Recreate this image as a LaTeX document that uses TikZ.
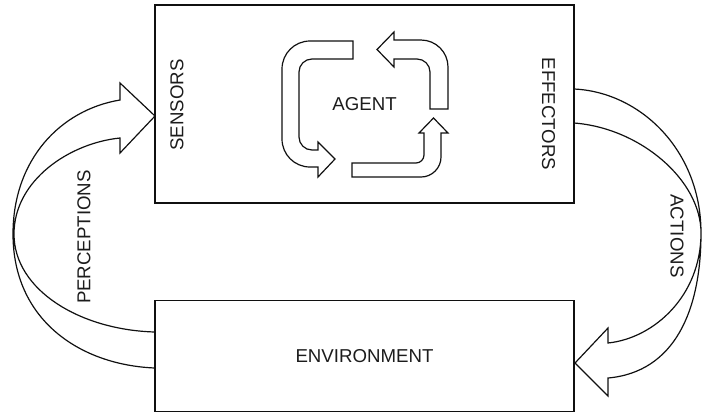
\documentclass[tikz,border=0pt]{standalone}
\usepackage{fontspec}
\setmainfont{Liberation Sans}
\usetikzlibrary{positioning}
\definecolor{LineCol}{HTML}{101010}
\definecolor{TextCol}{HTML}{1C1C1C}

\begin{document}
\begin{tikzpicture}[x=0.75pt,y=-0.75pt,
    box/.style={draw=LineCol,line width=0.9pt,rectangle,inner sep=0pt,
      font=\fontsize{14}{16}\selectfont,text=TextCol},
    blockarrow/.style={draw=LineCol,line width=0.9pt},
    lbl/.style={font=\fontsize{14}{16}\selectfont,text=TextCol,inner sep=0pt}]
  \useasboundingbox (0,0) rectangle (702,412);
  \node[box,minimum width=314.25pt,minimum height=148.5pt] (agent) at (364.5,104) {AGENT};
  \node[box,minimum width=314.25pt,minimum height=83.25pt,below=72pt of agent] (env) {ENVIRONMENT};
  \node[lbl,rotate=90]  (sensors)   at (177,105)   {SENSORS};
  \node[lbl,rotate=-90] (effectors) at (548.5,114) {EFFECTORS};
  \node[lbl,rotate=90]  (percepts)  at (84,237)    {PERCEPTIONS};
  \node[lbl,rotate=-90] (actions)   at (677,236)   {ACTIONS};
  % perceptions: environment -> sensors
  \draw[blockarrow] (155,332) .. controls (80,330) and (14,290) .. (14,234)
    .. controls (14,180) and (70,143) .. (120,138) -- (120,153) -- (155,116)
    -- (120,83) -- (120,100) .. controls (60,110) and (13,160) .. (13,234)
    .. controls (13,320) and (80,365) .. (155,368);
  % actions: effectors -> environment
  \draw[blockarrow] (574,89) .. controls (640,92) and (701,150) .. (701,233)
    .. controls (701,310) and (675,372) .. (608,378) -- (608,396) -- (575,363)
    -- (608,328) -- (608,343) .. controls (655,338) and (701,295) .. (701,233)
    .. controls (701,180) and (640,128) .. (574,123);
  % agent loop
  \draw[blockarrow] (353,41) -- (310,41) .. controls (294.5,41) and (282,53.5) .. (282,69)
    -- (282,139) .. controls (282,154.5) and (294.5,167) .. (310,167) -- (318,167)
    -- (318,177) -- (335,159) -- (318,142) -- (318,150) -- (312,150)
    .. controls (304.8,150) and (299,144.2) .. (299,137) -- (299,72)
    .. controls (299,64.8) and (304.8,59) .. (312,59) -- (353,59) -- cycle;
  \draw[blockarrow] (430,109) -- (430,72) .. controls (430,64.8) and (424.2,59) .. (417,59)
    -- (394,59) -- (394,67) -- (377,49.5) -- (394,32) -- (394,40) -- (421,40)
    .. controls (435.9,40) and (448,52.1) .. (448,67) -- (448,109) -- cycle;
  \draw[blockarrow] (352,163) -- (416,163) .. controls (420.4,163) and (424,159.4) .. (424,155)
    -- (424,133) -- (419,133) -- (433.5,118) -- (448,133) -- (441,133) -- (441,157)
    .. controls (441,168) and (432,177) .. (421,177) -- (352,177) -- cycle;
\end{tikzpicture}
\end{document}
